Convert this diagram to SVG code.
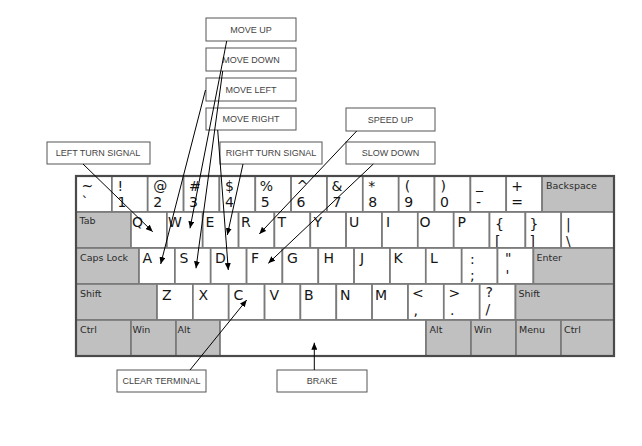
<svg xmlns="http://www.w3.org/2000/svg" width="642" height="446" viewBox="0 0 642 446">
<style>
.k{fill:#ffffff;stroke:#7a7a7a;stroke-width:1.7}
.m{fill:#c0c0c0;stroke:#7a7a7a;stroke-width:1.7}
.t{font-family:"DejaVu Sans",Verdana,sans-serif;font-size:14px;fill:#151515}
.s{font-family:"DejaVu Sans",Verdana,sans-serif;font-size:9.5px;fill:#2a2a2a}
.lb{fill:#ffffff;stroke:#555;stroke-width:1}
.lt{font-family:"Liberation Sans",Arial,sans-serif;font-size:9px;fill:#444;text-anchor:middle}
.c{stroke:#000;stroke-width:1;fill:none;marker-end:url(#ah)}
</style>
<defs>
<marker id="ah" markerUnits="userSpaceOnUse" markerWidth="7" markerHeight="6" refX="7" refY="3" orient="auto">
<path d="M0,0 L7,3 L0,6 z" fill="#000"/>
</marker>
</defs>
<rect width="642" height="446" fill="#fff"/>
<g id="keyboard">
<!-- row 1 -->
<g id="key-grave"><rect class="k" x="76" y="176" width="35.9" height="36"/><text class="t" x="81.5" y="190.5">~</text><text class="t" x="81.5" y="207">`</text></g>
<g id="key-1"><rect class="k" x="111.9" y="176" width="35.8" height="36"/><text class="t" x="117.4" y="190.5">!</text><text class="t" x="117.4" y="207">1</text></g>
<g id="key-2"><rect class="k" x="147.7" y="176" width="35.9" height="36"/><text class="t" x="153.2" y="190.5">@</text><text class="t" x="153.2" y="207">2</text></g>
<g id="key-3"><rect class="k" x="183.6" y="176" width="35.8" height="36"/><text class="t" x="189.1" y="190.5">#</text><text class="t" x="189.1" y="207">3</text></g>
<g id="key-4"><rect class="k" x="219.4" y="176" width="35.9" height="36"/><text class="t" x="224.9" y="190.5">$</text><text class="t" x="224.9" y="207">4</text></g>
<g id="key-5"><rect class="k" x="255.3" y="176" width="35.8" height="36"/><text class="t" x="259.8" y="190.5">%</text><text class="t" x="260.8" y="207">5</text></g>
<g id="key-6"><rect class="k" x="291.1" y="176" width="35.9" height="36"/><text class="t" x="296.6" y="190.5">^</text><text class="t" x="296.6" y="207">6</text></g>
<g id="key-7"><rect class="k" x="327" y="176" width="35.8" height="36"/><text class="t" x="331.5" y="190.5">&amp;</text><text class="t" x="332.5" y="207">7</text></g>
<g id="key-8"><rect class="k" x="362.8" y="176" width="35.9" height="36"/><text class="t" x="368.3" y="190.5">*</text><text class="t" x="368.3" y="207">8</text></g>
<g id="key-9"><rect class="k" x="398.7" y="176" width="35.8" height="36"/><text class="t" x="404.7" y="190.5">(</text><text class="t" x="404.2" y="207">9</text></g>
<g id="key-0"><rect class="k" x="434.5" y="176" width="35.9" height="36"/><text class="t" x="440.5" y="190.5">)</text><text class="t" x="440" y="207">0</text></g>
<g id="key-minus"><rect class="k" x="470.4" y="176" width="35.8" height="36"/><text class="t" x="475.9" y="188.5">_</text><text class="t" x="475.9" y="207">-</text></g>
<g id="key-equal"><rect class="k" x="506.2" y="176" width="35.9" height="36"/><text class="t" x="511.2" y="190.5">+</text><text class="t" x="511.2" y="207">=</text></g>
<g id="key-backspace"><rect class="m" x="542.1" y="176" width="71.9" height="36"/><text class="s" x="546" y="189">Backspace</text></g>
<!-- row 2 -->
<g id="key-tab"><rect class="m" x="76" y="212" width="55" height="36"/><text class="s" x="79.5" y="224">Tab</text></g>
<g id="key-q"><rect class="k" x="131" y="212" width="35.9" height="36"/><text class="t" x="132" y="227">Q</text></g>
<g id="key-w"><rect class="k" x="166.9" y="212" width="35.8" height="36"/><text class="t" x="168" y="227">W</text></g>
<g id="key-e"><rect class="k" x="202.7" y="212" width="35.9" height="36"/><text class="t" x="205.5" y="227">E</text></g>
<g id="key-r"><rect class="k" x="238.6" y="212" width="35.8" height="36"/><text class="t" x="241" y="227">R</text></g>
<g id="key-t"><rect class="k" x="274.4" y="212" width="35.9" height="36"/><text class="t" x="277.5" y="227">T</text></g>
<g id="key-y"><rect class="k" x="310.3" y="212" width="35.8" height="36"/><text class="t" x="313.5" y="227">Y</text></g>
<g id="key-u"><rect class="k" x="346.1" y="212" width="35.9" height="36"/><text class="t" x="349" y="227">U</text></g>
<g id="key-i"><rect class="k" x="382" y="212" width="35.8" height="36"/><text class="t" x="386" y="227">I</text></g>
<g id="key-o"><rect class="k" x="417.8" y="212" width="35.9" height="36"/><text class="t" x="419.5" y="227">O</text></g>
<g id="key-p"><rect class="k" x="453.7" y="212" width="35.8" height="36"/><text class="t" x="457.5" y="227">P</text></g>
<g id="key-lbracket"><rect class="k" x="489.5" y="212" width="35.9" height="36"/><text class="t" x="495" y="229">{</text><text class="t" x="495" y="245.5">[</text></g>
<g id="key-rbracket"><rect class="k" x="525.4" y="212" width="35.8" height="36"/><text class="t" x="529.5" y="229">}</text><text class="t" x="529.5" y="245.5">]</text></g>
<g id="key-backslash"><rect class="k" x="561.2" y="212" width="52.8" height="36"/><text class="t" x="566" y="229">|</text><text class="t" x="566" y="245.5">\</text></g>
<!-- row 3 -->
<g id="key-capslock"><rect class="m" x="76" y="248" width="63" height="36"/><text class="s" x="80" y="261">Caps Lock</text></g>
<g id="key-a"><rect class="k" x="139" y="248" width="35.9" height="36"/><text class="t" x="142.5" y="263">A</text></g>
<g id="key-s"><rect class="k" x="174.9" y="248" width="35.8" height="36"/><text class="t" x="179.5" y="263">S</text></g>
<g id="key-d"><rect class="k" x="210.7" y="248" width="35.9" height="36"/><text class="t" x="215" y="263">D</text></g>
<g id="key-f"><rect class="k" x="246.6" y="248" width="35.8" height="36"/><text class="t" x="251" y="263">F</text></g>
<g id="key-g"><rect class="k" x="282.4" y="248" width="35.9" height="36"/><text class="t" x="287" y="263">G</text></g>
<g id="key-h"><rect class="k" x="318.3" y="248" width="35.8" height="36"/><text class="t" x="323.5" y="263">H</text></g>
<g id="key-j"><rect class="k" x="354.1" y="248" width="35.9" height="36"/><text class="t" x="360" y="263">J</text></g>
<g id="key-k"><rect class="k" x="390" y="248" width="35.8" height="36"/><text class="t" x="393.5" y="263">K</text></g>
<g id="key-l"><rect class="k" x="425.8" y="248" width="35.9" height="36"/><text class="t" x="430" y="263">L</text></g>
<g id="key-semicolon"><rect class="k" x="461.7" y="248" width="35.8" height="36"/><text class="t" x="470" y="263.5">:</text><text class="t" x="470" y="280">;</text></g>
<g id="key-quote"><rect class="k" x="497.5" y="248" width="35.9" height="36"/><text class="t" x="505" y="263">"</text><text class="t" x="505.5" y="279.5">'</text></g>
<g id="key-enter"><rect class="m" x="533.4" y="248" width="80.6" height="36"/><text class="s" x="536.5" y="261">Enter</text></g>
<!-- row 4 -->
<g id="key-lshift"><rect class="m" x="76" y="284" width="81" height="36"/><text class="s" x="80" y="297">Shift</text></g>
<g id="key-z"><rect class="k" x="157" y="284" width="35.9" height="36"/><text class="t" x="162" y="299.5">Z</text></g>
<g id="key-x"><rect class="k" x="192.9" y="284" width="35.8" height="36"/><text class="t" x="198.5" y="299.5">X</text></g>
<g id="key-c"><rect class="k" x="228.7" y="284" width="35.9" height="36"/><text class="t" x="233.5" y="299.5">C</text></g>
<g id="key-v"><rect class="k" x="264.6" y="284" width="35.8" height="36"/><text class="t" x="269.5" y="299.5">V</text></g>
<g id="key-b"><rect class="k" x="300.4" y="284" width="35.9" height="36"/><text class="t" x="304" y="299.5">B</text></g>
<g id="key-n"><rect class="k" x="336.3" y="284" width="35.8" height="36"/><text class="t" x="340" y="299.5">N</text></g>
<g id="key-m"><rect class="k" x="372.1" y="284" width="35.9" height="36"/><text class="t" x="375" y="299.5">M</text></g>
<g id="key-comma"><rect class="k" x="408" y="284" width="35.8" height="36"/><text class="t" x="412" y="298">&lt;</text><text class="t" x="413.5" y="314.5">,</text></g>
<g id="key-period"><rect class="k" x="443.8" y="284" width="35.9" height="36"/><text class="t" x="448.5" y="298">&gt;</text><text class="t" x="450" y="315">.</text></g>
<g id="key-slash"><rect class="k" x="479.7" y="284" width="35.8" height="36"/><text class="t" x="485.5" y="297">?</text><text class="t" x="485.5" y="313.5">/</text></g>
<g id="key-rshift"><rect class="m" x="515.5" y="284" width="98.5" height="36"/><text class="s" x="518.5" y="297">Shift</text></g>
<!-- row 5 -->
<g id="key-lctrl"><rect class="m" x="76" y="320" width="55" height="36"/><text class="s" x="80" y="333">Ctrl</text></g>
<g id="key-lwin"><rect class="m" x="131" y="320" width="45" height="36"/><text class="s" x="132.5" y="333">Win</text></g>
<g id="key-lalt"><rect class="m" x="176" y="320" width="44" height="36"/><text class="s" x="177.5" y="333">Alt</text></g>
<g id="key-space"><rect class="k" x="220" y="320" width="206" height="36"/></g>
<g id="key-ralt"><rect class="m" x="426" y="320" width="45" height="36"/><text class="s" x="429.5" y="333">Alt</text></g>
<g id="key-rwin"><rect class="m" x="471" y="320" width="45" height="36"/><text class="s" x="474" y="333">Win</text></g>
<g id="key-menu"><rect class="m" x="516" y="320" width="45" height="36"/><text class="s" x="519" y="333">Menu</text></g>
<g id="key-rctrl"><rect class="m" x="561" y="320" width="53" height="36"/><text class="s" x="564" y="333">Ctrl</text></g>
<rect x="76" y="176" width="538" height="180" fill="none" stroke="#4a4a4a" stroke-width="2.2"/>
</g>
<g id="label-move-up"><rect class="lb" x="206" y="18" width="90" height="23"/><text class="lt" x="251" y="32.7">MOVE UP</text></g>
<g id="label-move-down"><rect class="lb" x="206" y="48" width="90" height="23"/><text class="lt" x="251" y="62.7">MOVE DOWN</text></g>
<g id="label-move-left"><rect class="lb" x="206" y="78" width="90" height="23"/><text class="lt" x="251" y="92.7">MOVE LEFT</text></g>
<g id="label-move-right"><rect class="lb" x="206" y="108" width="90" height="22"/><text class="lt" x="251" y="122.2">MOVE RIGHT</text></g>
<g id="label-left-turn"><rect class="lb" x="47" y="142" width="103" height="22"/><text class="lt" x="98" y="156.2">LEFT TURN SIGNAL</text></g>
<g id="label-right-turn"><rect class="lb" x="220" y="142" width="102" height="22"/><text class="lt" x="271" y="156.2">RIGHT TURN SIGNAL</text></g>
<g id="label-speed-up"><rect class="lb" x="346" y="108" width="89" height="23"/><text class="lt" x="390.5" y="122.7">SPEED UP</text></g>
<g id="label-slow-down"><rect class="lb" x="346" y="142" width="89" height="22"/><text class="lt" x="390.5" y="156.2">SLOW DOWN</text></g>
<g id="label-clear-terminal"><rect class="lb" x="117" y="370" width="89" height="22"/><text class="lt" x="161.5" y="384.2">CLEAR TERMINAL</text></g>
<g id="label-brake"><rect class="lb" x="277" y="370" width="90" height="22"/><text class="lt" x="322" y="384.2">BRAKE</text></g>
<g id="connectors">
<line class="c" x1="83" y1="164" x2="152.7" y2="231.7"/>
<line class="c" x1="226.7" y1="41" x2="190" y2="228.3"/>
<line class="c" x1="222.7" y1="71" x2="196" y2="268.3"/>
<line class="c" x1="205.5" y1="90" x2="160.7" y2="264"/>
<line class="c" x1="217.7" y1="130" x2="228.3" y2="270"/>
<line class="c" x1="243" y1="164" x2="227.3" y2="235"/>
<line class="c" x1="356.7" y1="131" x2="259.3" y2="234"/>
<line class="c" x1="373.3" y1="164" x2="268.3" y2="263.3"/>
<line class="c" x1="190" y1="370" x2="246.7" y2="300"/>
<line class="c" x1="314.3" y1="370" x2="314.3" y2="342.7"/>
</g>
</svg>
